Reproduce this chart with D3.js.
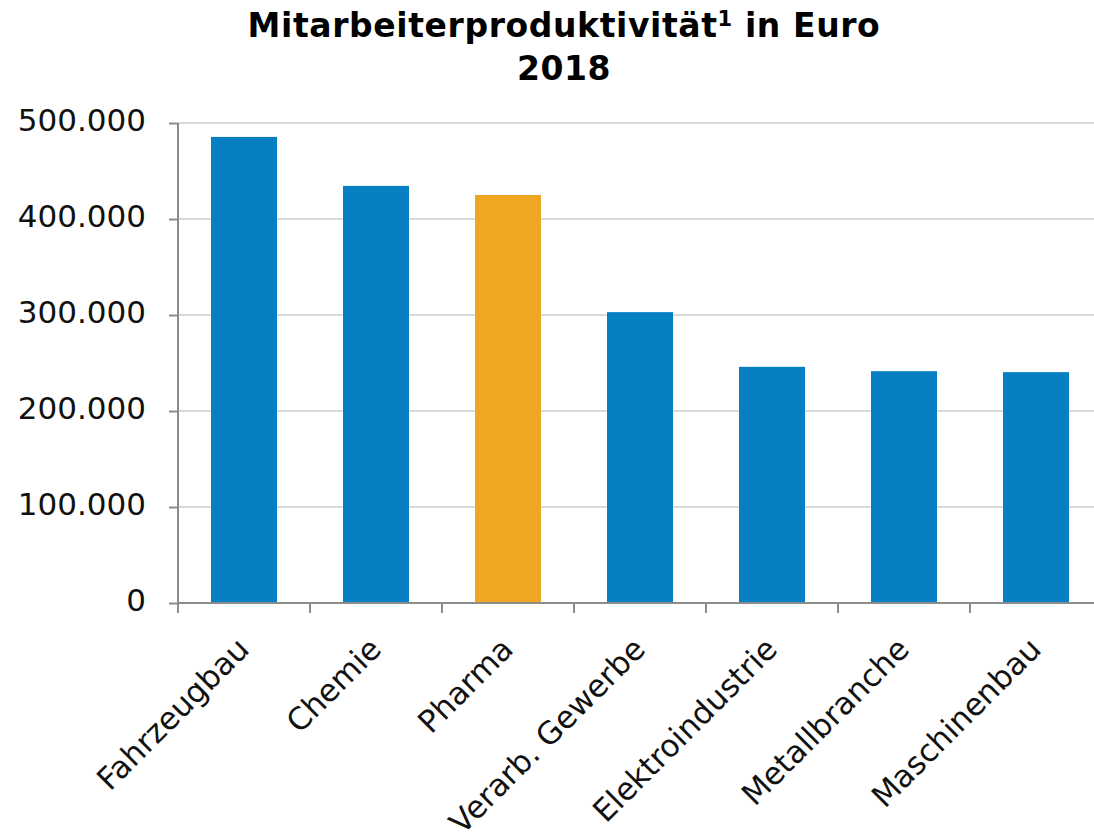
<!DOCTYPE html>
<html>
<head>
<meta charset="utf-8">
<script src="https://cdn.jsdelivr.net/npm/d3@7"></script>
<style>
  body { margin: 0; background: #fff; }
  text { font-family: "DejaVu Sans", Verdana, sans-serif; }
</style>
</head>
<body>
<div id="chart"></div>
<script>
const categories = ['Fahrzeugbau', 'Chemie', 'Pharma', 'Verarb. Gewerbe', 'Elektroindustrie', 'Metallbranche', 'Maschinenbau'];
const values = [485500, 434500, 425000, 303000, 246000, 241500, 240500];
const highlight = 'Pharma';
const yTicks = [0, 100000, 200000, 300000, 400000, 500000];

const width = 1094, height = 835;
const margin = { top: 123, right: -8, bottom: 232, left: 178 };
const innerW = width - margin.left - margin.right;
const innerH = height - margin.top - margin.bottom;

const svg = d3.select('#chart').append('svg')
    .attr('width', width)
    .attr('height', height);

const title = svg.append('text')
    .attr('text-anchor', 'middle')
    .style('font-weight', 'bold')
    .style('font-size', '33px')
    .style('letter-spacing', '0.6px')
    .attr('x', 564);
const line1 = title.append('tspan').attr('x', 564).attr('y', 37);
line1.append('tspan').text('Mitarbeiterproduktivität');
line1.append('tspan').attr('dy', -11).style('font-size', '21px').text('1');
line1.append('tspan').attr('dy', 11).text(' in Euro');
title.append('tspan').attr('x', 564).attr('y', 80).text('2018');

const g = svg.append('g')
    .attr('transform', `translate(${margin.left},${margin.top})`);

const x = d3.scaleBand()
    .domain(categories)
    .range([0, innerW])
    .paddingInner(0.5)
    .paddingOuter(0.25);

const y = d3.scaleLinear()
    .domain([0, 500000])
    .range([innerH, 0]);

const fmt = d => d3.format(',')(d).replace(/,/g, '.');

// gridlines
g.append('g')
    .selectAll('line')
    .data(yTicks.slice(1))
    .enter()
    .append('line')
    .attr('x1', 0)
    .attr('x2', innerW)
    .attr('y1', d => y(d))
    .attr('y2', d => y(d))
    .style('stroke', '#d9d9d9')
    .style('stroke-width', 2);

// bars
g.append('g')
    .selectAll('rect')
    .data(categories)
    .enter()
    .append('rect')
    .attr('x', d => x(d))
    .attr('width', x.bandwidth())
    .attr('y', (d, i) => y(values[i]))
    .attr('height', (d, i) => innerH - y(values[i]))
    .style('fill', d => d === highlight ? '#eda723' : '#0680c3');

// y axis
const yAxis = g.append('g')
    .call(d3.axisLeft(y).tickValues(yTicks).tickFormat(fmt).tickSize(9).tickPadding(23));
yAxis.selectAll('line, path').style('stroke', '#8c8c8c').style('stroke-width', 2);
yAxis.selectAll('text').style('font-size', '31px').style('fill', '#111').attr('dy', '0.25em');
yAxis.select('.domain').attr('d', `M0,${innerH}V0`);

// x axis with ticks at band edges
const step = x.step();
const xAxisG = g.append('g').attr('transform', `translate(0,${innerH})`);
xAxisG.append('line')
    .attr('x1', 0).attr('x2', innerW)
    .style('stroke', '#8c8c8c').style('stroke-width', 2);
xAxisG.selectAll('line.tick')
    .data(categories)
    .enter()
    .append('line')
    .attr('class', 'tick')
    .attr('x1', d => x(d) - (step - x.bandwidth()) / 2)
    .attr('x2', d => x(d) - (step - x.bandwidth()) / 2)
    .attr('y1', 0)
    .attr('y2', 10)
    .style('stroke', '#8c8c8c').style('stroke-width', 2);

xAxisG.selectAll('text')
    .data(categories)
    .enter()
    .append('text')
    .attr('text-anchor', 'end')
    .attr('transform', d => `translate(${x(d) + x.bandwidth() / 2 + 7},${48}) rotate(-45)`)
    .style('font-size', '31px')
    .style('fill', '#111')
    .text(d => d);
</script>
</body>
</html>
